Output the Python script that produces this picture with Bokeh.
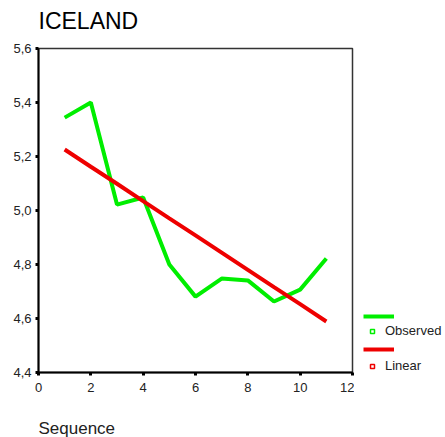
from bokeh.plotting import figure
from bokeh.layouts import row
from bokeh.models import (FixedTicker, Range1d, Legend, LegendItem, Title)
from bokeh.embed import file_html
from bokeh.resources import INLINE

sequence = [1, 2, 3, 4, 5, 6, 7, 8, 9, 10, 11]
observed = [5.344, 5.400, 5.022, 5.048, 4.800, 4.681, 4.748, 4.741, 4.663, 4.707, 4.822]
linear = [5.226, 5.162, 5.099, 5.035, 4.971, 4.908, 4.844, 4.780, 4.716, 4.653, 4.589]
x_ticks = [0, 2, 4, 6, 8, 10, 12]
y_ticks = [4.4, 4.6, 4.8, 5.0, 5.2, 5.4, 5.6]
y_tick_labels = ["4,4", "4,6", "4,8", "5,0", "5,2", "5,4", "5,6"]
series_names = ["Observed", "Linear"]
series_values = [observed, linear]
series_colors = ["#00ee00", "#ee0000"]

FONT = "Liberation Sans"
H = 437

p = figure(width=354, height=H, output_backend="svg", toolbar_location=None,
           x_range=Range1d(0, 12), y_range=Range1d(4.4, 5.6),
           min_border_left=38, min_border_top=48, min_border_bottom=64,
           min_border_right=2)

p.title.text = "ICELAND"
p.title.text_font = FONT
p.title.text_font_size = "23px"
p.title.text_font_style = "normal"
p.title.text_color = "black"
p.title.align = "left"
p.title.standoff = 2

# thin spacer between the frame and the title
p.add_layout(Title(text=" ", text_font_size="1px", standoff=11), "above")

p.grid.visible = False
p.outline_line_color = "#333333"
p.outline_line_width = 1.5

for ax in (p.xaxis, p.yaxis):
    ax.axis_line_color = "black"
    ax.axis_line_width = 2
    ax.major_tick_in = 0
    ax.major_tick_out = 3
    ax.major_tick_line_width = 3
    ax.major_tick_line_color = "black"
    ax.minor_tick_line_color = None
    ax.major_label_text_font = FONT
    ax.major_label_text_font_size = "13px"
    ax.major_label_text_color = "#222222"

p.xaxis.ticker = FixedTicker(ticks=x_ticks)
p.yaxis.ticker = FixedTicker(ticks=y_ticks)
p.yaxis.major_label_overrides = {t: l for t, l in zip(y_ticks, y_tick_labels)}
p.yaxis.major_label_standoff = 4
p.xaxis.major_label_standoff = 7
p.xaxis.axis_label = " "
p.xaxis.axis_label_text_font_size = "16px"
p.xaxis.axis_label_standoff = 2

for vals, c in zip(series_values, series_colors):
    p.line(sequence, vals, line_color=c, line_width=4)

seq_title = Title(text="Sequence", align="left", text_font=FONT,
                  text_font_size="17px", text_font_style="normal",
                  text_color="#222222", standoff=0)
p.add_layout(seq_title, "below")

# legend panel (proxy renderers lie outside this panel's visible ranges)
leg = figure(width=91, height=H, output_backend="svg", toolbar_location=None,
             x_range=Range1d(-1, 0), y_range=Range1d(-1, 0),
             min_border=0, outline_line_color=None)
leg.axis.visible = False
leg.grid.visible = False

line_rs = [leg.line(sequence, v, line_color=c, line_width=4)
           for v, c in zip(series_values, series_colors)]
mark_rs = [leg.scatter(sequence, v, marker="square", size=6, fill_color="white",
                       line_color=c, line_width=1.5)
           for v, c in zip(series_values, series_colors)]

common = dict(border_line_color=None, background_fill_alpha=0,
              label_text_font=FONT, label_text_font_size="13px",
              label_text_color="#222222",
              glyph_height=10, label_height=10, padding=0, margin=0)

legend_lines = Legend(items=[LegendItem(label=" ", renderers=[r], index=0) for r in line_rs],
                      location=(9, 18), glyph_width=31, label_standoff=0,
                      spacing=23, **common)
leg.add_layout(legend_lines, "center")

legend_marks = Legend(items=[LegendItem(label=n, renderers=[r], index=0)
                             for n, r in zip(series_names, mark_rs)],
                      location=(13, -1), glyph_width=10, label_standoff=8,
                      spacing=20, **common)
leg.add_layout(legend_marks, "center")

layout = row(p, leg, spacing=0)
open("out.html", "w").write(file_html(layout, INLINE))
